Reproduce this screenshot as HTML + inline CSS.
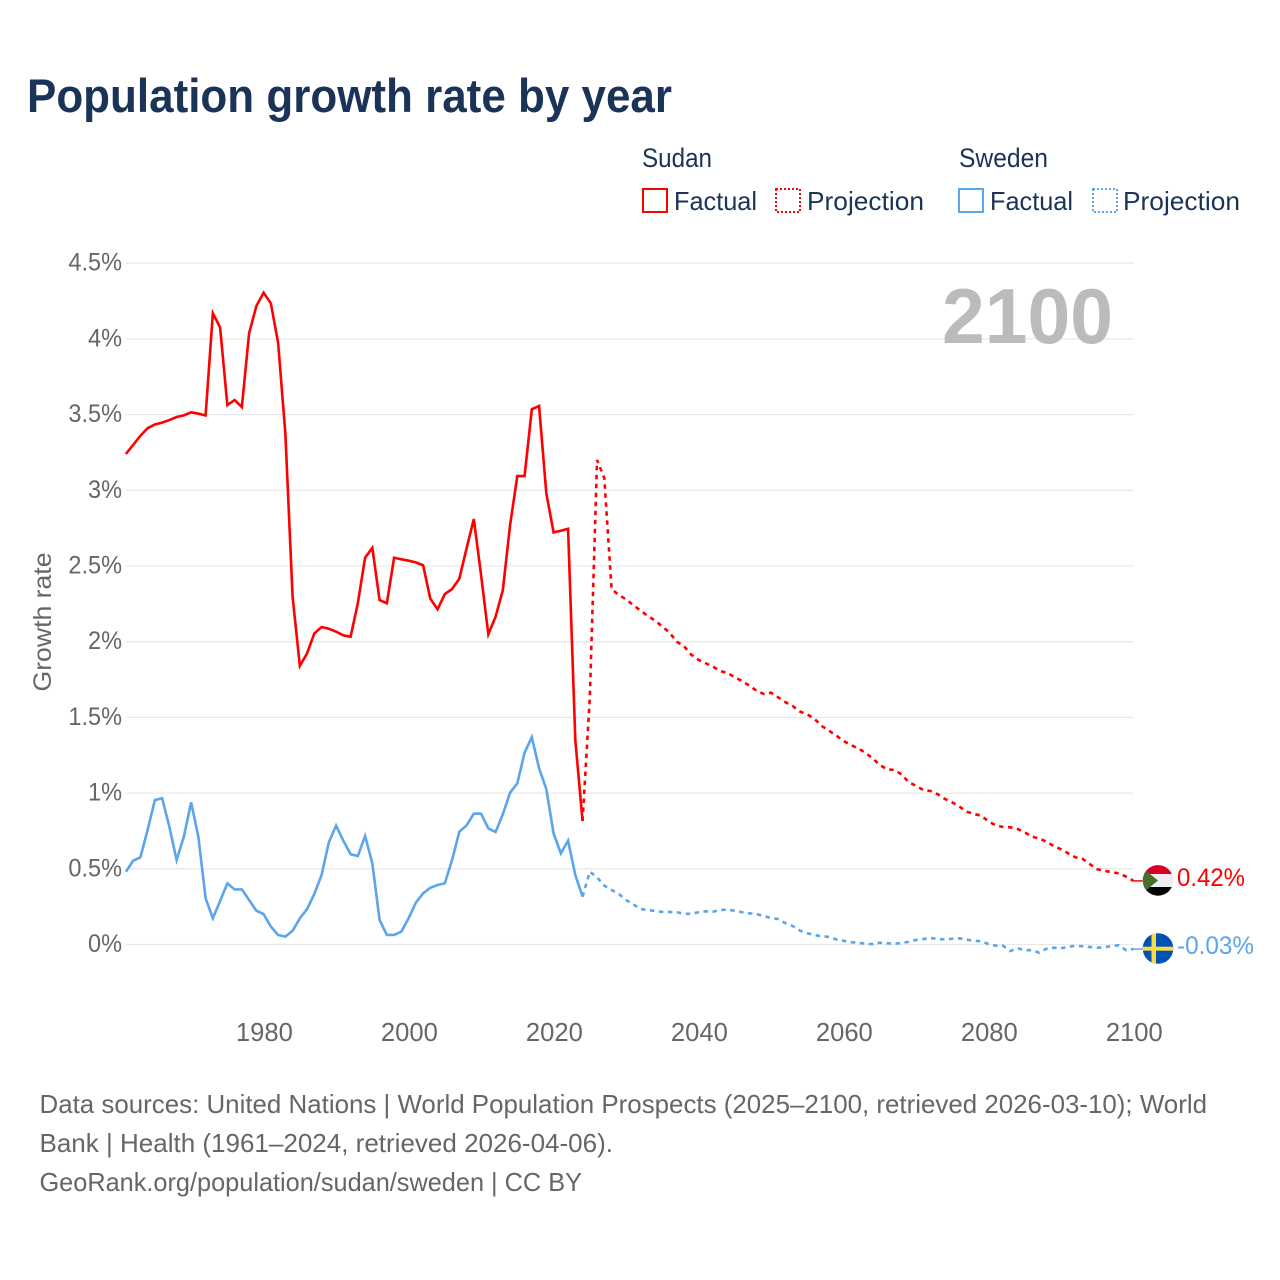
<!DOCTYPE html>
<html lang="en">
<head>
<meta charset="utf-8">
<title>Population growth rate by year</title>
<style>
html,body{margin:0;padding:0;background:#fff;}
svg{display:block;font-family:"Liberation Sans",sans-serif;}
</style>
</head>
<body>
<svg id="chart" xmlns="http://www.w3.org/2000/svg" width="1280" height="1280" viewBox="0 0 1280 1280">
  <defs>
    <clipPath id="clip-sudan"><circle cx="1158" cy="880.4" r="15.3"/></clipPath>
    <clipPath id="clip-sweden"><circle cx="1158" cy="948.5" r="15.3"/></clipPath>
  </defs>
  <rect width="1280" height="1280" fill="#fff"/>
  <text x="27" y="112" font-size="47" font-weight="700" fill="#1a3357" textLength="645" lengthAdjust="spacingAndGlyphs">Population growth rate by year</text>

  <g font-size="26" fill="#1a3357">
    <text x="642" y="167" font-size="27" textLength="70" lengthAdjust="spacingAndGlyphs">Sudan</text>
    <rect x="643" y="189" width="24" height="23" fill="none" stroke="#ff0000" stroke-width="2"/>
    <text x="674" y="210" textLength="83" lengthAdjust="spacingAndGlyphs">Factual</text>
    <rect x="776" y="189" width="24" height="23" fill="none" stroke="#ff0000" stroke-width="2" stroke-dasharray="2 2"/>
    <text x="807" y="210" textLength="117" lengthAdjust="spacingAndGlyphs">Projection</text>
    <text x="959" y="167" font-size="27" textLength="89" lengthAdjust="spacingAndGlyphs">Sweden</text>
    <rect x="959" y="189" width="24" height="23" fill="none" stroke="#5aa5ec" stroke-width="2"/>
    <text x="990" y="210" textLength="83" lengthAdjust="spacingAndGlyphs">Factual</text>
    <rect x="1093" y="189" width="24" height="23" fill="none" stroke="#5aa5ec" stroke-width="2" stroke-dasharray="2 2"/>
    <text x="1123" y="210" textLength="117" lengthAdjust="spacingAndGlyphs">Projection</text>
  </g>

  <g id="grid"></g>
  <g id="y-ticks"></g>
  <g id="x-ticks"></g>
  <text transform="translate(51,622) rotate(-90)" text-anchor="middle" font-size="25" fill="#666" textLength="139" lengthAdjust="spacingAndGlyphs">Growth rate</text>
  <text x="1113" y="343" text-anchor="end" font-size="78" font-weight="700" fill="#bbbbbb" textLength="171" lengthAdjust="spacingAndGlyphs">2100</text>
  <g id="series"></g>

  <g clip-path="url(#clip-sudan)">
    <rect x="1142" y="865" width="32" height="9" fill="#d80027"/>
    <rect x="1142" y="874" width="32" height="13" fill="#eeeeee"/>
    <rect x="1142" y="887" width="32" height="10" fill="#000000"/>
    <polygon points="1142,867.4 1158,880.5 1142,893.6" fill="#496e2d"/>
  </g>
  <g clip-path="url(#clip-sweden)">
    <rect x="1142" y="933" width="32" height="31" fill="#0052b4"/>
    <rect x="1151.5" y="933" width="4.5" height="31" fill="#ffda44"/>
    <rect x="1142" y="946.7" width="32" height="4" fill="#ffda44"/>
  </g>
  <text id="label-sudan" x="1177" y="886" font-size="25" fill="#ff0000" textLength="68" lengthAdjust="spacingAndGlyphs"></text>
  <text id="label-sweden" x="1177" y="954" font-size="25" fill="#5aa5ec" textLength="77" lengthAdjust="spacingAndGlyphs"></text>

  <g font-size="26" fill="#666">
    <text x="39.5" y="1113" textLength="1167.5" lengthAdjust="spacingAndGlyphs">Data sources: United Nations | World Population Prospects (2025–2100, retrieved 2026-03-10); World</text>
    <text x="39.5" y="1152" textLength="573.5" lengthAdjust="spacingAndGlyphs">Bank | Health (1961–2024, retrieved 2026-04-06).</text>
    <text x="39.5" y="1191" textLength="542.5" lengthAdjust="spacingAndGlyphs">GeoRank.org/population/sudan/sweden | CC BY</text>
  </g>
</svg>

<script>
const firstFactualYear = 1961;
const firstProjectionYear = 2025;
const yTickValues = [0, 0.5, 1, 1.5, 2, 2.5, 3, 3.5, 4, 4.5];
const yTickLabels = ['0%', '0.5%', '1%', '1.5%', '2%', '2.5%', '3%', '3.5%', '4%', '4.5%'];
const xTickYears = [1980, 2000, 2020, 2040, 2060, 2080, 2100];
const sudanEndLabel = '0.42%';
const swedenEndLabel = '-0.03%';

const sudanFactual = [
  3.24,3.30,3.36,3.41,3.435,3.447,3.464,3.484,3.495,3.515,
  3.506,3.495,4.17,4.075,3.563,3.596,3.55,4.037,4.217,4.305,
  4.235,3.975,3.376,2.297,1.84,1.923,2.055,2.097,2.086,2.066,
  2.042,2.033,2.254,2.555,2.62,2.275,2.254,2.555,2.544,2.535,
  2.524,2.505,2.284,2.214,2.315,2.348,2.416,2.617,2.81,2.44,
  2.049,2.165,2.34,2.77,3.094,3.094,3.535,3.557,2.98,2.722,
  2.733,2.746,1.35,0.816
];
const sudanProjection = [
  1.63,3.2,3.08,2.348,2.308,2.28,2.242,2.205,2.17,2.14,
  2.10,2.06,2.00,1.97,1.914,1.88,1.857,1.835,1.806,1.793,
  1.765,1.74,1.71,1.676,1.655,1.663,1.632,1.60,1.575,1.538,
  1.52,1.49,1.443,1.412,1.38,1.344,1.318,1.296,1.267,1.23,
  1.186,1.157,1.153,1.124,1.071,1.049,1.02,1.014,0.992,0.961,
  0.939,0.91,0.877,0.862,0.851,0.813,0.787,0.776,0.774,0.763,
  0.741,0.712,0.70,0.679,0.65,0.629,0.602,0.576,0.565,0.53,
  0.497,0.487,0.477,0.47,0.448,0.42
];
const swedenFactual = [
  0.481,0.553,0.576,0.756,0.954,0.966,0.778,0.558,0.712,0.939,
  0.712,0.305,0.173,0.287,0.404,0.364,0.364,0.294,0.223,0.201,
  0.118,0.063,0.052,0.091,0.173,0.234,0.334,0.459,0.675,0.785,
  0.686,0.596,0.585,0.717,0.536,0.162,0.063,0.063,0.085,0.173,
  0.276,0.338,0.375,0.393,0.404,0.558,0.745,0.787,0.864,0.864,
  0.767,0.743,0.86,1.003,1.065,1.267,1.369,1.164,1.027,0.734,
  0.602,0.686,0.459,0.316
];
const swedenProjection = [
  0.481,0.444,0.388,0.36,0.334,0.294,0.265,0.234,0.228,0.221,
  0.215,0.215,0.213,0.203,0.203,0.213,0.219,0.217,0.228,0.23,
  0.223,0.213,0.206,0.201,0.188,0.175,0.168,0.14,0.122,0.091,
  0.074,0.063,0.054,0.05,0.034,0.025,0.015,0.012,0.005,0.003,
  0.012,0.008,0.005,0.01,0.018,0.03,0.036,0.043,0.036,0.034,
  0.038,0.041,0.032,0.025,0.021,0.003,-0.008,-0.008,-0.043,-0.025,
  -0.036,-0.038,-0.054,-0.028,-0.021,-0.025,-0.015,-0.008,-0.012,-0.017,
  -0.021,-0.018,-0.01,-0.005,-0.038,-0.03
];

const SVGNS = 'http://www.w3.org/2000/svg';
function xScale(year) { return 263.6 + (year - 1980) * (1133.5 - 263.6) / 120; }
function yScale(value) { return 944.5 - value * 151.4; }

const gridGroup = document.getElementById('grid');
const yTickGroup = document.getElementById('y-ticks');
const xTickGroup = document.getElementById('x-ticks');
const seriesGroup = document.getElementById('series');

yTickValues.forEach(function (value, i) {
  const line = document.createElementNS(SVGNS, 'line');
  line.setAttribute('x1', 126);
  line.setAttribute('x2', 1133.5);
  line.setAttribute('y1', yScale(value));
  line.setAttribute('y2', yScale(value));
  line.setAttribute('stroke', '#e9e9e9');
  line.setAttribute('stroke-width', 1.3);
  
  
  gridGroup.appendChild(line);

  const label = document.createElementNS(SVGNS, 'text');
  label.setAttribute('x', 122);
  label.setAttribute('y', yScale(value) + 7.5);
  label.setAttribute('text-anchor', 'end');
  label.setAttribute('font-size', 25);
  label.setAttribute('fill', '#666');
  label.textContent = yTickLabels[i];
  
  
  yTickGroup.appendChild(label);
  label.setAttribute('textLength', (label.getComputedTextLength() * 0.94).toFixed(1));
  label.setAttribute('lengthAdjust', 'spacingAndGlyphs');
});

xTickYears.forEach(function (year) {
  const label = document.createElementNS(SVGNS, 'text');
  label.setAttribute('x', xScale(year) + 0.8);
  label.setAttribute('y', 1041);
  label.setAttribute('text-anchor', 'middle');
  label.setAttribute('font-size', 25.6);
  label.setAttribute('fill', '#666');
  label.textContent = year;
  
  
  xTickGroup.appendChild(label);
});

function factualPoints(values) {
  return values.map(function (value, i) {
    return xScale(firstFactualYear + i).toFixed(2) + ',' + yScale(value).toFixed(2);
  });
}
function projectionPoints(values, factual) {
  const lastYear = firstFactualYear + factual.length - 1;
  const head = [xScale(lastYear).toFixed(2) + ',' + yScale(factual[factual.length - 1]).toFixed(2)];
  return head.concat(values.map(function (value, i) {
    return xScale(firstProjectionYear + i).toFixed(2) + ',' + yScale(value).toFixed(2);
  }));
}

const sudanFactualLine = document.createElementNS(SVGNS, 'polyline');
sudanFactualLine.setAttribute('points', factualPoints(sudanFactual).join(' '));
sudanFactualLine.setAttribute('fill', 'none');
sudanFactualLine.setAttribute('stroke', '#ff0000');
sudanFactualLine.setAttribute('stroke-width', 2.6);
sudanFactualLine.setAttribute('stroke-linejoin', 'miter');


seriesGroup.appendChild(sudanFactualLine);

const sudanProjectionLine = document.createElementNS(SVGNS, 'polyline');
sudanProjectionLine.setAttribute('points', projectionPoints(sudanProjection, sudanFactual).join(' '));
sudanProjectionLine.setAttribute('fill', 'none');
sudanProjectionLine.setAttribute('stroke', '#ff0000');
sudanProjectionLine.setAttribute('stroke-width', 2.6);
sudanProjectionLine.setAttribute('stroke-dasharray', '4.5 4.5');


seriesGroup.appendChild(sudanProjectionLine);

const swedenFactualLine = document.createElementNS(SVGNS, 'polyline');
swedenFactualLine.setAttribute('points', factualPoints(swedenFactual).join(' '));
swedenFactualLine.setAttribute('fill', 'none');
swedenFactualLine.setAttribute('stroke', '#5aa5ec');
swedenFactualLine.setAttribute('stroke-width', 2.6);


seriesGroup.appendChild(swedenFactualLine);

const swedenProjectionLine = document.createElementNS(SVGNS, 'polyline');
swedenProjectionLine.setAttribute('points', projectionPoints(swedenProjection, swedenFactual).join(' '));
swedenProjectionLine.setAttribute('fill', 'none');
swedenProjectionLine.setAttribute('stroke', '#5aa5ec');
swedenProjectionLine.setAttribute('stroke-width', 2.6);
swedenProjectionLine.setAttribute('stroke-dasharray', '4.5 4.5');


seriesGroup.appendChild(swedenProjectionLine);

const sudanConnector = document.createElementNS(SVGNS, 'line');
sudanConnector.setAttribute('x1', xScale(2100));
sudanConnector.setAttribute('x2', xScale(2100) + 9);
sudanConnector.setAttribute('y1', yScale(sudanProjection[sudanProjection.length - 1]));
sudanConnector.setAttribute('y2', yScale(sudanProjection[sudanProjection.length - 1]));
sudanConnector.setAttribute('stroke', '#ff0000');
sudanConnector.setAttribute('stroke-width', 1.5);


seriesGroup.appendChild(sudanConnector);

const swedenConnector = document.createElementNS(SVGNS, 'line');
swedenConnector.setAttribute('x1', xScale(2100));
swedenConnector.setAttribute('x2', xScale(2100) + 9);
swedenConnector.setAttribute('y1', yScale(swedenProjection[swedenProjection.length - 1]));
swedenConnector.setAttribute('y2', yScale(swedenProjection[swedenProjection.length - 1]));
swedenConnector.setAttribute('stroke', '#5aa5ec');
swedenConnector.setAttribute('stroke-width', 1.5);


seriesGroup.appendChild(swedenConnector);

document.getElementById('label-sudan').textContent = sudanEndLabel;
document.getElementById('label-sweden').textContent = swedenEndLabel;
</script>
</body>
</html>
